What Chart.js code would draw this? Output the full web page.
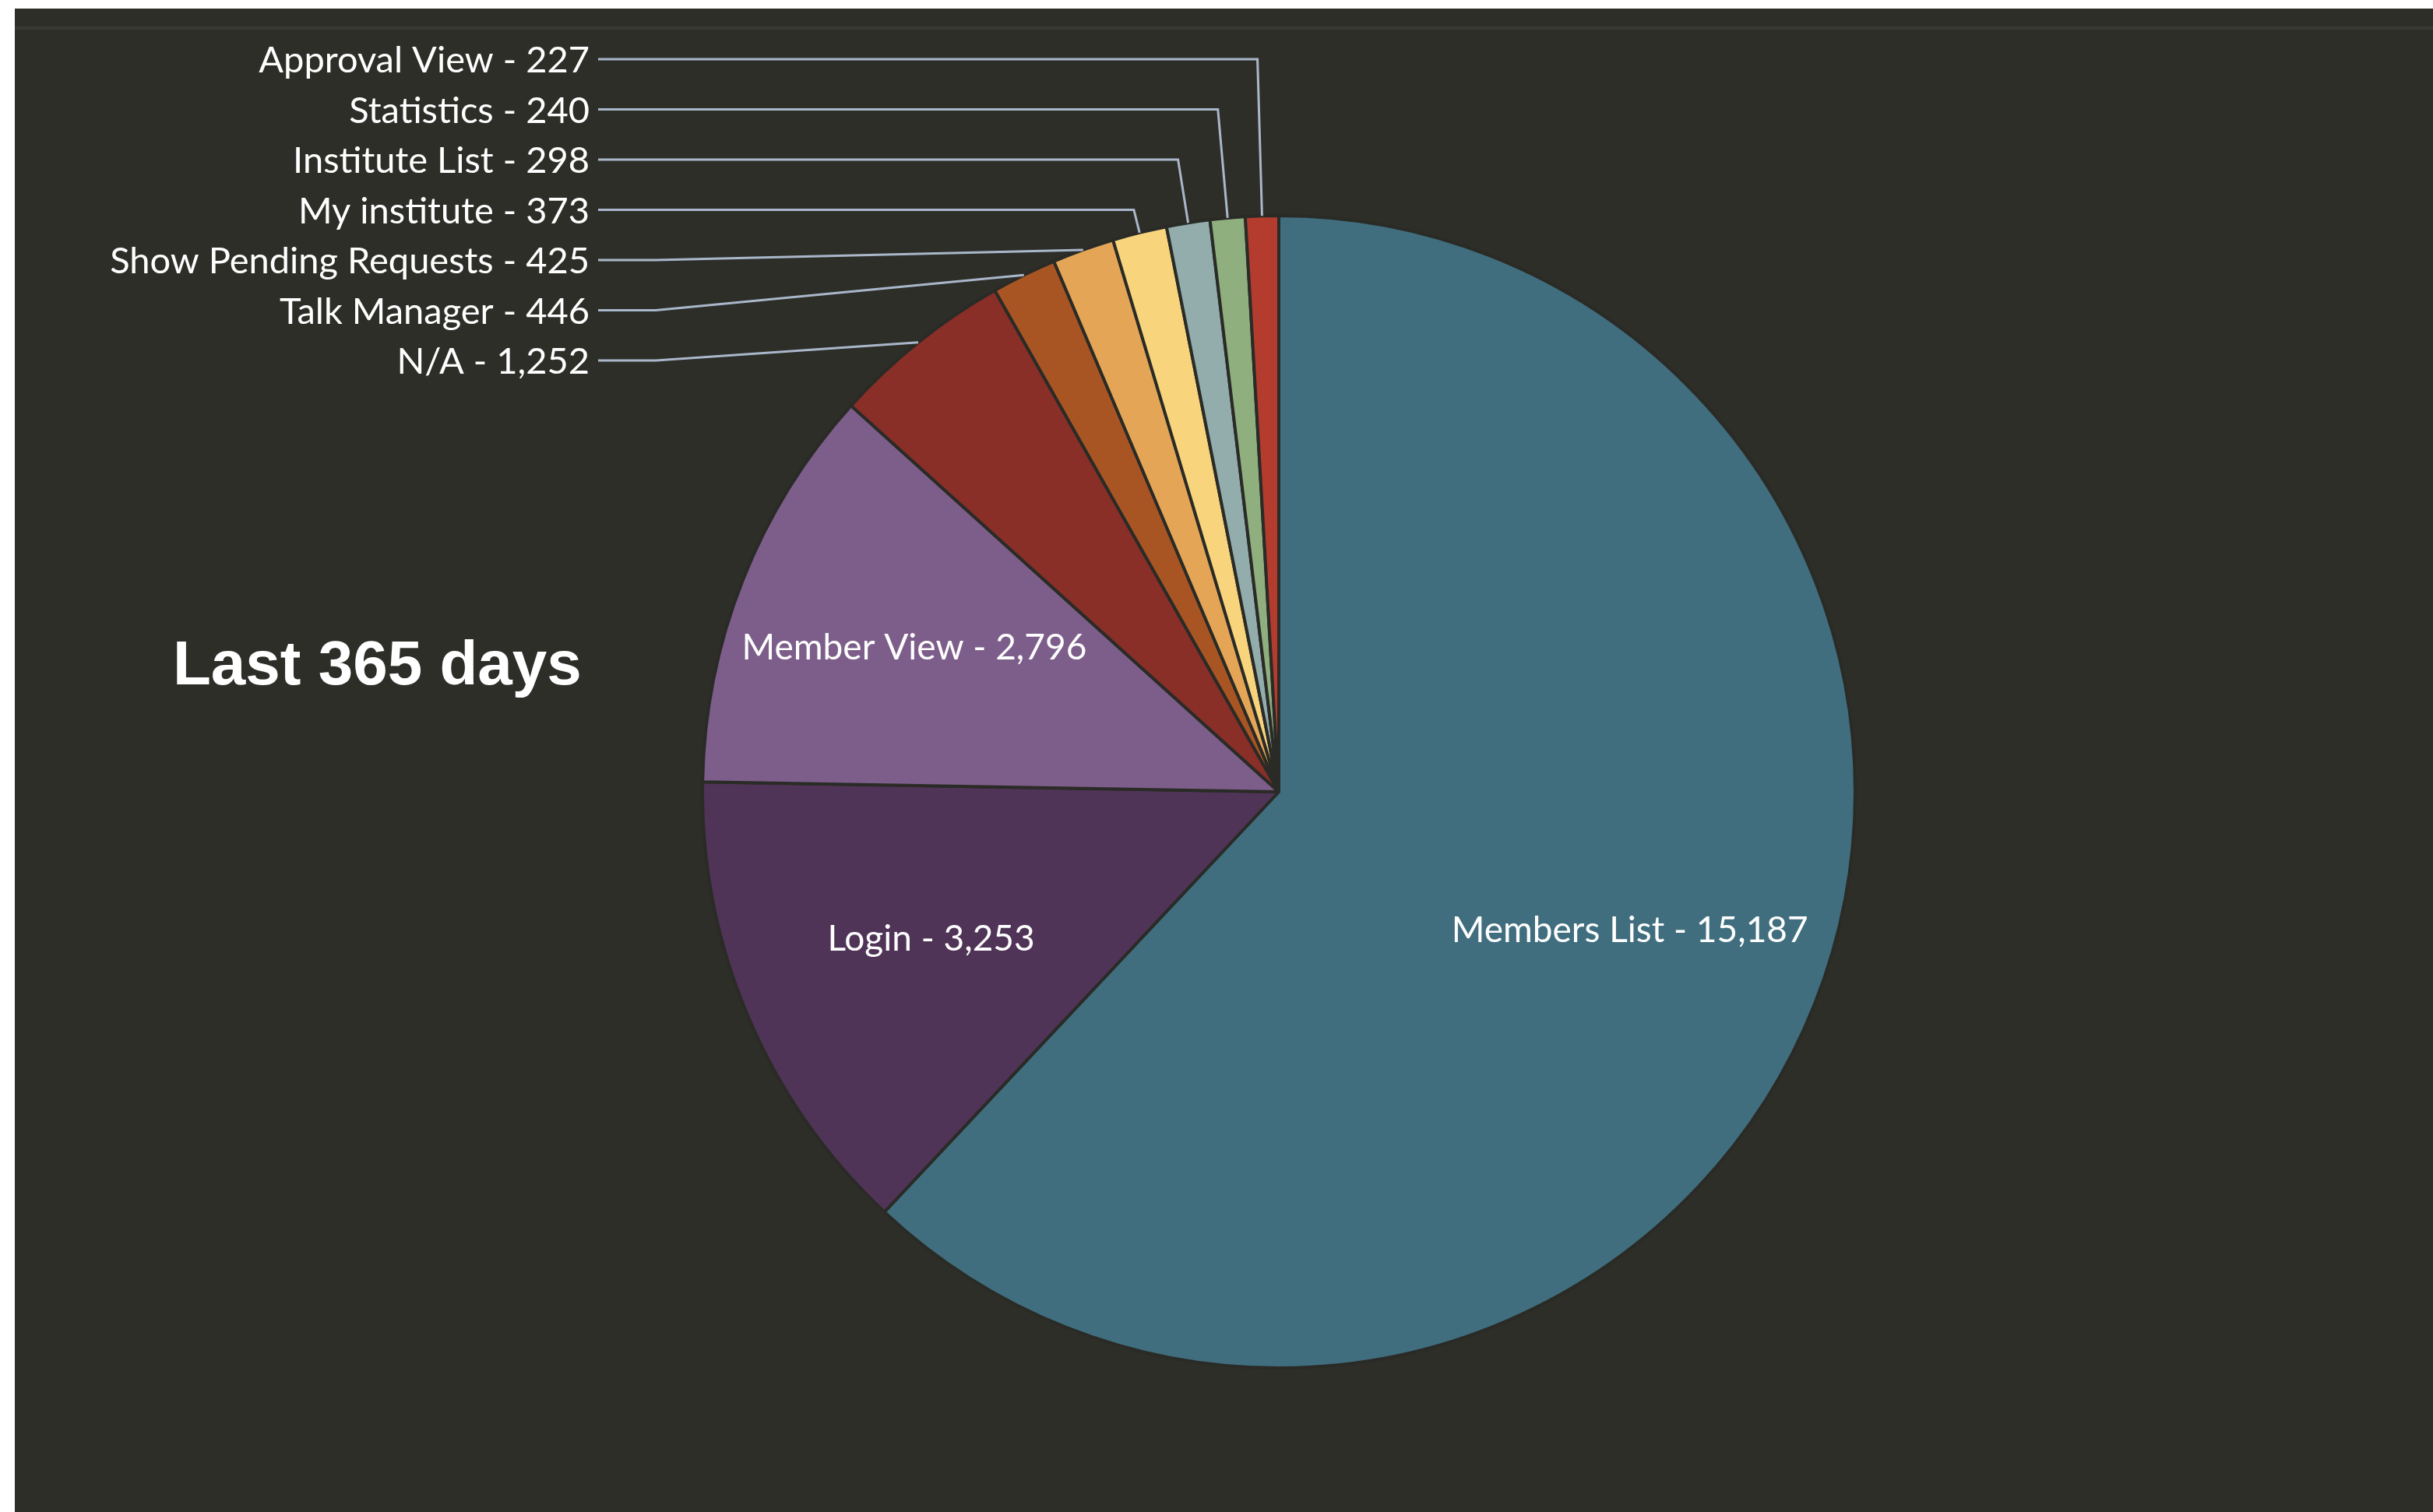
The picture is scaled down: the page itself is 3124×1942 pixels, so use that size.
<!DOCTYPE html>
<html>
<head>
<meta charset="utf-8">
<script src="https://cdn.jsdelivr.net/npm/chart.js@4.4.1/dist/chart.umd.min.js"></script>
<style>
    html, body { margin: 0; padding: 0; background: #ffffff; overflow: hidden; }
    #panel {
        position: absolute; left: 19px; top: 11px; width: 3105px; height: 1931px;
        background: #2d2e28;
    }
    #rule {
        position: absolute; left: 19px; top: 34px; width: 3105px; height: 4px;
        background: #393a34;
    }
    #wrap { position: absolute; left: 0; top: 0; width: 3124px; height: 1942px; }
</style>
</head>
<body>
<div id="panel"></div>
<div id="rule"></div>
<div id="wrap"><canvas id="pageViewsChart"></canvas></div>
<script>
// page names and hit counts (clockwise from 12 o'clock)
var pages = ['Members List', 'Login', 'Member View', 'N/A', 'Talk Manager',
    'Show Pending Requests', 'My institute', 'Institute List', 'Statistics', 'Approval View'];
var hits = [15187, 3253, 2796, 1252, 446, 425, 373, 298, 240, 227];
var sliceColors = ['#406e7e', '#4f3457', '#7d5e8b', '#8a2e28', '#a95523',
    '#e4a656', '#f8d47c', '#92adac', '#8faf7f', '#b33c2f'];
var chartTitle = 'Last 365 days';

// Function to format numbers with commas
function formatNumber(num) {
    return num.toString().replace(/\B(?=(\d{3})+(?!\d))/g, ",");
}

// draws the slice labels: inside for big slices, stacked on the left with leader lines for small ones
var sliceLabels = {
    id: 'sliceLabels',
    afterDatasetsDraw: function(chart) {
        var ctx = chart.ctx;
        var meta = chart.getDatasetMeta(0);
        var total = hits.reduce(function(a, b) { return a + b; }, 0);
        ctx.save();
        ctx.fillStyle = '#ffffff';

        meta.data.forEach(function(arc, i) {
            var mid = (arc.startAngle + arc.endAngle) / 2;
            var text = pages[i] + ' - ' + formatNumber(hits[i]);
            if (hits[i] / total > 0.1) {
                var r = arc.outerRadius * (i == 2 ? 0.68 : 0.655);
                ctx.font = '46px Lato';
                ctx.textAlign = 'center';
                ctx.textBaseline = 'middle';
                ctx.fillText(text, arc.x + Math.cos(mid) * r, arc.y + Math.sin(mid) * r);
                return;
            }
            // outside label, stacked from the top (last slice first)
            var row = pages.length - 1 - i;
            var rowY = 76 + row * 64.5;
            var px = arc.x + Math.cos(mid) * arc.outerRadius;
            var py = arc.y + Math.sin(mid) * arc.outerRadius;
            var bx, by = rowY;
            if (py > rowY) {
                var t = (rowY - py) / Math.sin(mid);
                bx = px + t * Math.cos(mid);
            } else {
                bx = 842;
            }
            ctx.strokeStyle = '#aab7ca';
            ctx.lineWidth = 3;
            ctx.beginPath();
            ctx.moveTo(768, rowY);
            ctx.lineTo(bx, by);
            ctx.lineTo(px, py);
            ctx.stroke();

            ctx.font = '47px Lato';
            ctx.textAlign = 'right';
            ctx.textBaseline = 'middle';
            ctx.fillText(text, 757, rowY + 2);
        });

        // title on the left
        ctx.font = 'bold 80px "Liberation Sans", Arial, sans-serif';
        ctx.textAlign = 'left';
        ctx.textBaseline = 'alphabetic';
        ctx.fillText(chartTitle, 222, 879);
        ctx.restore();
    }
};

var ctx = document.getElementById('pageViewsChart');
var pieChart = new Chart(ctx.getContext('2d'), {
    type: 'pie',
    data: {
        labels: pages,
        datasets: [{
            data: hits,
            backgroundColor: sliceColors,
            borderColor: '#2a2b26',
            borderWidth: 4
        }]
    },
    options: {
        responsive: true,
        maintainAspectRatio: false,
        animation: false,
        radius: 740,
        layout: {
            padding: { left: 902, top: 277, right: 742, bottom: 185 }
        },
        plugins: {
            legend: { display: false },
            title: { display: false },
            tooltip: { enabled: false }
        }
    },
    plugins: [sliceLabels]
});
</script>
</body>
</html>
